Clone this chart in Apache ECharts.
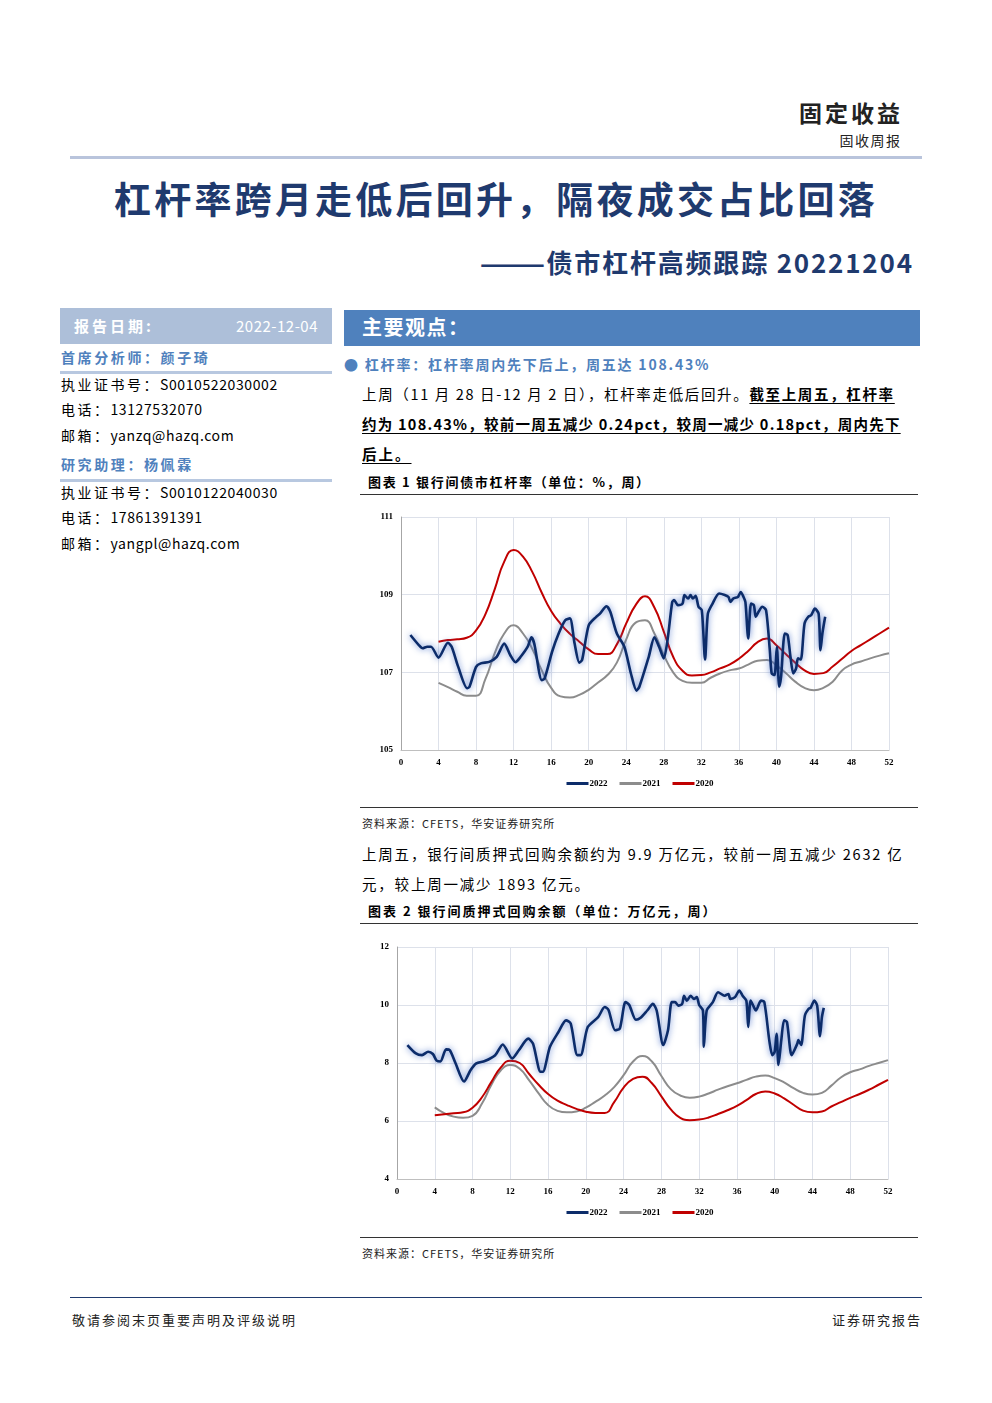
<!DOCTYPE html>
<html><head><meta charset="utf-8">
<script src="https://cdn.jsdelivr.net/npm/echarts@6/dist/echarts.min.js"></script>
<style>
html,body{margin:0;padding:0;background:#fff;}
body{width:992px;height:1403px;position:relative;overflow:hidden;font-family:"Noto Sans CJK SC","Noto Sans",sans-serif;color:#000;}
.t{position:absolute;white-space:nowrap;line-height:20px;}
.hl{position:absolute;}
.b{font-weight:700;}
.u{text-decoration:underline;text-underline-offset:3px;}
.cj{letter-spacing:2.5px;}
.num{letter-spacing:0.6px;}
</style></head><body>
<div class="t b" style="right:92px;top:97px;font-size:23px;line-height:30px;color:#222;letter-spacing:3px;margin-right:-3px;">固定收益</div>
<div class="t" style="right:92px;top:130px;font-size:14px;color:#222;letter-spacing:1.5px;margin-right:-1.5px;">固收周报</div>
<div class="hl" style="left:70px;top:156px;width:852px;height:3px;background:#b9c4dc;"></div>
<div class="t b" style="left:0;width:992px;text-align:center;top:176px;font-size:37px;line-height:44px;color:#1f3a6e;letter-spacing:3.2px;">杠杆率跨月走低后回升，隔夜成交占比回落</div>
<div class="t b" style="right:80px;top:246px;font-size:26px;line-height:32px;color:#1f3a6e;letter-spacing:1.8px;margin-right:-1.8px;">———债市杠杆高频跟踪 20221204</div>

<div class="hl" style="left:60px;top:308px;width:272px;height:36px;background:#adbfd9;"></div>
<div class="t b" style="left:74px;top:316px;font-size:15px;color:#fff;letter-spacing:3px;">报告日期:</div>
<div class="t" style="right:674px;top:316px;font-size:15px;color:#fff;letter-spacing:0.5px;">2022-12-04</div>
<div class="t b" style="left:61px;top:347px;font-size:14px;color:#4f81bd;letter-spacing:2.6px;">首席分析师：颜子琦</div>
<div class="hl" style="left:60px;top:371px;width:272px;height:3px;background:#b8c8e0;"></div>
<div class="t" style="left:61px;top:374px;font-size:14px;"><span class="cj">执业证书号：</span><span class="num">S0010522030002</span></div>
<div class="t" style="left:61px;top:399px;font-size:14px;"><span class="cj">电话：</span><span class="num">13127532070</span></div>
<div class="t" style="left:61px;top:425px;font-size:14px;"><span class="cj">邮箱：</span><span class="num">yanzq@hazq.com</span></div>
<div class="t b" style="left:61px;top:454px;font-size:14px;color:#4f81bd;letter-spacing:2.6px;">研究助理：杨佩霖</div>
<div class="hl" style="left:60px;top:479px;width:272px;height:3px;background:#b8c8e0;"></div>
<div class="t" style="left:61px;top:482px;font-size:14px;"><span class="cj">执业证书号：</span><span class="num">S0010122040030</span></div>
<div class="t" style="left:61px;top:507px;font-size:14px;"><span class="cj">电话：</span><span class="num">17861391391</span></div>
<div class="t" style="left:61px;top:533px;font-size:14px;"><span class="cj">邮箱：</span><span class="num">yangpl@hazq.com</span></div>

<div class="hl" style="left:344px;top:310px;width:576px;height:36px;background:#4f81bd;"></div>
<div class="t b" style="left:362px;top:315px;font-size:20px;line-height:24px;color:#fff;letter-spacing:1.5px;">主要观点：</div>
<div class="t b" style="left:344px;top:354px;font-size:14px;color:#4f81bd;letter-spacing:1.8px;">● 杠杆率：杠杆率周内先下后上，周五达 108.43%</div>
<div class="t" style="left:362px;top:384px;font-size:14.5px;letter-spacing:1.65px;">上周（11 月 28 日-12 月 2 日），杠杆率走低后回升。<span class="b u">截至上周五，杠杆率</span></div>
<div class="t b u" style="left:362px;top:414px;font-size:14.5px;letter-spacing:1.25px;">约为 108.43%，较前一周五减少 0.24pct，较周一减少 0.18pct，周内先下</div>
<div class="t b u" style="left:362px;top:444px;font-size:14.5px;letter-spacing:2px;">后上。</div>
<div class="t b" style="left:368px;top:472px;font-size:13px;letter-spacing:1.7px;">图表 1 银行间债市杠杆率（单位：%，周）</div>
<div class="hl" style="left:360px;top:494px;width:558px;height:1px;background:#333;"></div>
<div id="c1" style="position:absolute;left:360px;top:500px;width:560px;height:300px;"></div>
<div class="hl" style="left:360px;top:807px;width:558px;height:1px;background:#333;"></div>
<div class="t" style="left:362px;top:813px;font-size:11px;color:#222;letter-spacing:1px;">资料来源：CFETS，华安证券研究所</div>
<div class="t" style="left:362px;top:844px;font-size:14.5px;letter-spacing:1.8px;">上周五，银行间质押式回购余额约为 9.9 万亿元，较前一周五减少 2632 亿</div>
<div class="t" style="left:362px;top:874px;font-size:14.5px;letter-spacing:1.8px;">元，较上周一减少 1893 亿元。</div>
<div class="t b" style="left:368px;top:901px;font-size:13px;letter-spacing:2px;">图表 2 银行间质押式回购余额（单位：万亿元，周）</div>
<div class="hl" style="left:360px;top:923px;width:558px;height:1px;background:#333;"></div>
<div id="c2" style="position:absolute;left:360px;top:930px;width:560px;height:305px;"></div>
<div class="hl" style="left:360px;top:1237px;width:558px;height:1px;background:#333;"></div>
<div class="t" style="left:362px;top:1243px;font-size:11px;color:#222;letter-spacing:1px;">资料来源：CFETS，华安证券研究所</div>

<div class="hl" style="left:70px;top:1297px;width:852px;height:1px;background:#1f3a6e;"></div>
<div class="t" style="left:72px;top:1310px;font-size:13px;color:#222;letter-spacing:2px;">敬请参阅末页重要声明及评级说明</div>
<div class="t" style="right:72px;top:1310px;font-size:13px;color:#222;letter-spacing:2px;margin-right:-2px;">证券研究报告</div>

<script>
// ---- data ----
const weeksPrev = [4,5,6,7,8,9,10,11,12,13,14,15,16,17,18,19,20,21,22,23,24,25,26,27,28,29,30,31,32,33,34,35,36,37,38,39,40,41,42,43,44,45,46,47,48,49,50,51,52];

// Chart 1: leverage ratio (%)
const lev2022Week = [1.0,1.9,2.3,2.8,3.2,4.0,5.0,5.4,6.1,7.05,7.3,8.0,8.5,9.4,10.2,11.0,11.65,12.2,12.75,13.5,13.9,14.2,15.0,15.3,16.1,16.8,17.5,18.0,18.5,19.0,19.3,20.0,20.8,21.2,21.9,22.3,23.0,23.8,24.5,25.1,25.4,26.4,27.0,27.5,28.0,28.4,28.9,29.1,29.5,30.0,30.2,30.6,30.85,31.1,31.4,31.7,32.05,32.4,32.7,33.2,33.9,34.5,34.9,35.1,35.4,35.9,36.2,36.5,36.7,37.0,37.3,37.6,37.8,38.1,38.5,38.9,39.3,39.5,39.8,40.05,40.3,40.5,40.9,41.2,41.5,41.8,42.1,42.3,42.6,43.0,43.4,43.7,44.1,44.5,44.7,44.9,45.2];
const lev2022 = [107.96,107.7,107.62,107.66,107.66,107.38,107.76,107.66,107.14,106.59,106.63,107.14,107.23,107.27,107.4,107.74,107.44,107.26,107.4,107.66,107.9,107.74,106.8,106.84,107.53,108.0,108.34,108.39,107.74,107.25,107.32,108.21,108.43,108.51,108.7,108.56,108.0,107.66,106.97,106.53,106.63,107.4,107.9,107.66,107.36,107.83,108.81,108.86,108.73,108.77,108.99,108.9,108.99,108.9,108.97,108.69,108.6,107.33,108.51,108.77,109.03,108.99,108.94,108.81,108.9,108.94,109.07,108.94,108.81,107.87,108.77,108.73,108.43,108.56,108.69,108.6,107.57,106.97,106.93,107.66,106.63,106.89,108.0,107.96,107.4,106.97,107.1,107.36,107.33,108.26,108.43,108.47,108.64,108.51,107.57,108.0,108.43];
const lev2021 = [106.73,106.62,106.5,106.4,106.4,106.83,107.5,108.0,108.21,108.0,107.6,107.05,106.6,106.38,106.35,106.42,106.55,106.74,106.93,107.25,107.85,108.28,108.34,108.0,107.45,107.0,106.78,106.73,106.73,106.86,106.97,107.05,107.1,107.2,107.3,107.32,107.18,106.98,106.76,106.6,106.54,106.6,106.76,107.05,107.2,107.28,107.36,107.43,107.49];
const lev2020 = [107.79,107.83,107.85,107.89,108.08,108.5,109.15,109.85,110.15,109.98,109.58,109.05,108.58,108.25,107.99,107.79,107.59,107.47,107.47,107.72,108.26,108.73,108.96,108.67,108.05,107.4,107.04,106.92,106.93,107.0,107.1,107.2,107.35,107.55,107.78,107.87,107.7,107.47,107.25,107.05,106.96,106.98,107.15,107.35,107.55,107.7,107.85,108.0,108.15];
const lev_yTicks = [105,107,109,111];

// Chart 2: pledged repo balance (trillion yuan)
const repo2022Week = [1.1,2.0,2.65,3.3,3.8,4.2,4.6,5.2,5.6,6.2,7.1,7.8,8.4,9.3,10.4,11.2,12.2,12.9,13.9,14.4,15.2,15.45,16.2,17.1,17.9,18.4,19.1,19.45,20.2,21.3,22.0,22.4,23.1,23.6,24.2,24.6,25.3,25.8,26.5,27.1,27.5,28.2,28.7,29.1,29.45,29.8,30.2,30.4,30.7,31.1,31.45,31.75,32.0,32.4,32.5,32.8,33.45,34.0,34.7,35.1,35.3,35.8,36.25,36.6,37.0,37.2,37.45,37.8,38.0,38.55,38.9,39.45,39.75,40.0,40.2,40.4,40.7,41.0,41.3,41.8,42.4,42.5,42.8,43.2,43.6,43.8,44.2,44.5,44.8,45.0,45.2];
const repo2022 = [8.62,8.33,8.27,8.39,8.31,8.08,8.05,8.47,8.44,7.99,7.36,7.76,7.99,8.07,8.27,8.64,8.16,8.44,8.84,8.67,7.70,7.70,8.56,9.07,9.47,9.36,8.27,8.27,9.24,9.58,9.93,9.83,9.13,9.19,10.1,10.0,9.49,9.56,9.81,10.04,9.81,8.62,9.13,10.1,10.1,9.98,10.04,10.32,10.15,10.32,10.21,10.27,10.0,9.81,8.56,9.81,10.1,10.44,10.32,10.38,10.21,10.27,10.5,10.32,10.15,9.24,10.15,9.93,9.81,10.15,10.1,8.73,8.27,8.39,9.01,7.93,8.79,9.47,9.41,8.27,8.67,8.79,8.62,9.64,9.87,9.9,10.15,9.98,8.92,9.58,9.9];
const repo2021 = [6.47,6.27,6.15,6.11,6.18,6.6,7.25,7.75,7.93,7.8,7.4,6.95,6.55,6.35,6.3,6.33,6.46,6.66,6.88,7.17,7.58,8.05,8.24,8.05,7.55,7.1,6.88,6.8,6.84,6.95,7.08,7.2,7.3,7.42,7.53,7.57,7.48,7.33,7.13,6.97,6.91,6.97,7.22,7.5,7.68,7.78,7.9,8.0,8.1];
const repo2020 = [6.2,6.23,6.27,6.3,6.46,6.82,7.35,7.85,8.08,8.0,7.62,7.25,6.93,6.7,6.55,6.42,6.32,6.28,6.28,6.65,7.15,7.45,7.53,7.3,6.85,6.4,6.11,6.03,6.05,6.12,6.24,6.37,6.52,6.72,6.93,7.02,6.95,6.78,6.56,6.36,6.3,6.33,6.5,6.65,6.8,6.93,7.08,7.25,7.42];
const repo_yTicks = [4,6,8,10,12];

const xTickInterval = 4;
const seriesNames = ['2022','2021','2020'];

function zip(xs, ys){ const n=Math.min(xs.length,ys.length); const o=[]; for(let i=0;i<n;i++) o.push([xs[i],ys[i]]); return o; }

function build(el, grid, legendTop, yTicks, d2022, d2021, d2020){
  const chart = echarts.init(document.getElementById(el), null, {renderer:'canvas'});
  const labelFont = {fontFamily:'"Liberation Serif","Times New Roman",serif', fontWeight:'bold', fontSize:9, color:'#000'};
  chart.setOption({
    animation:false,
    grid: grid,
    legend:{
      top: legendTop, left:'center', itemWidth:22, itemHeight:3, itemGap:12, icon:'rect',
      textStyle:Object.assign({}, labelFont, {padding:[0,0,0,-4]}),
      data: seriesNames
    },
    xAxis:{
      type:'value', min:0, max:52, interval:xTickInterval,
      axisLine:{show:true, lineStyle:{color:'#bfbfbf', width:1}},
      axisTick:{show:false},
      axisLabel:Object.assign({margin:8}, labelFont),
      splitLine:{show:true, lineStyle:{color:'#dde1ea', width:1}}
    },
    yAxis:{
      type:'value', min:yTicks[0], max:yTicks[yTicks.length-1], interval:yTicks[1]-yTicks[0],
      axisLine:{show:true, lineStyle:{color:'#a6a6a6', width:1}},
      axisTick:{show:false},
      axisLabel:Object.assign({margin:8}, labelFont),
      splitLine:{show:true, lineStyle:{color:'#dde1ea', width:1}}
    },
    series:[
      {name:'2022', type:'line', data:d2022, showSymbol:false, symbol:'none', smooth:0.25, z:5,
       itemStyle:{color:'#0c2c6a'},
       lineStyle:{color:'#0c2c6a', width:2.6, shadowColor:'rgba(70,110,200,0.85)', shadowBlur:6}},
      {name:'2021', type:'line', data:d2021, showSymbol:false, symbol:'none', smooth:true, z:3,
       itemStyle:{color:'#8c8c8c'}, lineStyle:{color:'#8c8c8c', width:2}},
      {name:'2020', type:'line', data:d2020, showSymbol:false, symbol:'none', smooth:true, z:4,
       itemStyle:{color:'#c00000'}, lineStyle:{color:'#c00000', width:2}}
    ]
  });
}

build('c1', {left:41, right:31, top:17, bottom:50}, 274, lev_yTicks,
  zip(lev2022Week, lev2022), zip(weeksPrev, lev2021), zip(weeksPrev, lev2020));
build('c2', {left:37, right:32, top:17, bottom:56}, 273, repo_yTicks,
  zip(repo2022Week, repo2022), zip(weeksPrev, repo2021), zip(weeksPrev, repo2020));
</script>
</body></html>
